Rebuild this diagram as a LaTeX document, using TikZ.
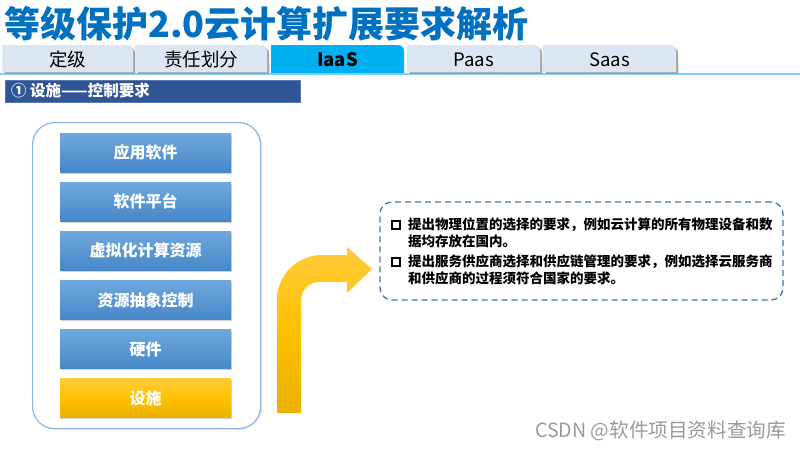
\documentclass[tikz,border=0pt]{standalone}
\usepackage{fontspec}
\setmainfont{Noto Sans CJK SC}
\usetikzlibrary{shadows}
\definecolor{titleblue}{HTML}{0070C0}
\definecolor{tabfill}{HTML}{DCE6F2}
\definecolor{tabshadow}{HTML}{A6A6A6}
\definecolor{tabcyan}{HTML}{00B0F0}
\definecolor{tabline}{HTML}{7DD3F7}
\definecolor{secblue}{HTML}{2F5597}
\definecolor{framecol}{HTML}{8EB4E3}
\definecolor{btop}{HTML}{6FA8DC}
\definecolor{bbot}{HTML}{4787C8}
\definecolor{ytop}{HTML}{FFCC3A}
\definecolor{ymid}{HTML}{FFC000}
\definecolor{ybot}{HTML}{E8B200}
\definecolor{dashcol}{HTML}{4A75A8}
\definecolor{wmgray}{HTML}{9A9A9A}
\newcommand\mytab[6]{%
  \fill[tabshadow] (#1+2.5,#6+2) -- (#1+2.5,47) -- (#2-4,47) arc[start angle=-90,end angle=0,radius=6] -- (#2+2.5,#6+2) -- cycle;
  \fill[tabfill] (#1,#6) -- (#1,45) -- (#2-6,45) arc[start angle=-90,end angle=0,radius=6] -- (#2,#6) -- cycle;
  \node[tabtext] (#3) at ({(#1+#2)/2},66) {#4};
}
\begin{document}
\begin{tikzpicture}[x=1pt,y=-1pt,
  tabtext/.style={anchor=base, font=\fontsize{18.5}{18.5}\selectfont, text=black, inner sep=0},
  layerbox/.style={minimum width=171pt, minimum height=39pt, inner sep=0,
    top color=btop, bottom color=bbot, draw=none, text=white,
    font=\fontsize{16}{16}\selectfont\bfseries,
    drop shadow={opacity=0.35, shadow xshift=1pt, shadow yshift=-1.5pt}},
  basebox/.style={layerbox, top color=ytop, bottom color=ybot, middle color=ymid},
  bullet/.style={draw=black, line width=1.3pt, minimum size=8pt, inner sep=0},
  btext/.style={anchor=west, inner sep=0, font=\fontsize{13.5}{13.5}\selectfont\bfseries, text=black}
]
\useasboundingbox (0,0) rectangle (800,450);
\fill[white] (0,0) rectangle (800,450);

% title
\node[anchor=west, inner sep=0, text=titleblue, font=\fontsize{36}{36}\selectfont\bfseries] (title) at (4,24) {等级保护2.0云计算扩展要求解析};

% tabs
\draw[tabline, line width=2pt] (0,73.5) -- (800,73.5);
\mytab{2}{133}{tab1}{定级}{}{72}
\mytab{135}{267}{tab2}{责任划分}{}{72}
\mytab{407}{540}{tab4}{Paas}{}{72}
\mytab{543}{676}{tab5}{Saas}{}{72}
\fill[tabcyan] (271,73) -- (271,45) -- (398,45) arc[start angle=-90,end angle=0,radius=6] -- (404,73) -- cycle;
\node[tabtext, font=\fontsize{18.5}{18.5}\selectfont\bfseries] (tab3) at (337.5,66) {IaaS};

% section bar
\node[anchor=north west, fill=secblue, draw=secblue!80!white, minimum width=295pt, minimum height=22pt, inner sep=0] (secbar) at (5,80) {};
\node[anchor=west, inner sep=0, text=white, font=\fontsize{15.5}{15.5}\selectfont\bfseries] (sectext) at (11,91) {① 设施——控制要求};

% container
\node[anchor=north west, draw=framecol, line width=1.2pt, fill=white, rounded corners=22pt,
  minimum width=228pt, minimum height=306pt, inner sep=0,
  drop shadow={opacity=0.15, shadow xshift=1.5pt, shadow yshift=-1.5pt}] (frame) at (32,122) {};

% layers
\node[layerbox] (l1) at (145.5,152.5) {应用软件};
\node[layerbox] (l2) at (145.5,201.5) {软件平台};
\node[layerbox] (l3) at (145.5,250.5) {虚拟化计算资源};
\node[layerbox] (l4) at (145.5,300) {资源抽象控制};
\node[layerbox] (l5) at (145.5,349) {硬件};
\node[basebox] (l6) at (145.5,398) {设施};

% bent arrow
\shade[top color=ytop, bottom color=ybot, middle color=ymid]
  (277,413) -- (277,300)
  .. controls (277,275.2) and (297.2,255) .. (322,255)
  -- (347,255) -- (347,247) -- (372,269) -- (347,293) -- (347,282) -- (319,282)
  .. controls (309.1,282) and (301,290.1) .. (301,300)
  -- (301,413) -- cycle;

% requirement box
\node[draw=dashcol, line width=1.3pt, dash pattern=on 6pt off 4pt, rounded corners=12pt,
  minimum width=403pt, minimum height=98pt, inner sep=0] (req) at (581.5,251) {};
\node[bullet] (b1) at (396,225) {};
\node[btext] (t1a) at (408,225) {提出物理位置的选择的要求，例如云计算的所有物理设备和数};
\node[btext] (t1b) at (408,241) {据均存放在国内。};
\node[bullet] (b2) at (396,262) {};
\node[btext] (t2a) at (408,262) {提出服务供应商选择和供应链管理的要求，例如选择云服务商};
\node[btext] (t2b) at (408,278) {和供应商的过程须符合国家的要求。};

% watermark
\node[anchor=east, inner sep=0, text=wmgray, font=\fontsize{19.6}{19.6}\selectfont] (wm) at (786,431) {CSDN @软件项目资料查询库};
\end{tikzpicture}
\end{document}
